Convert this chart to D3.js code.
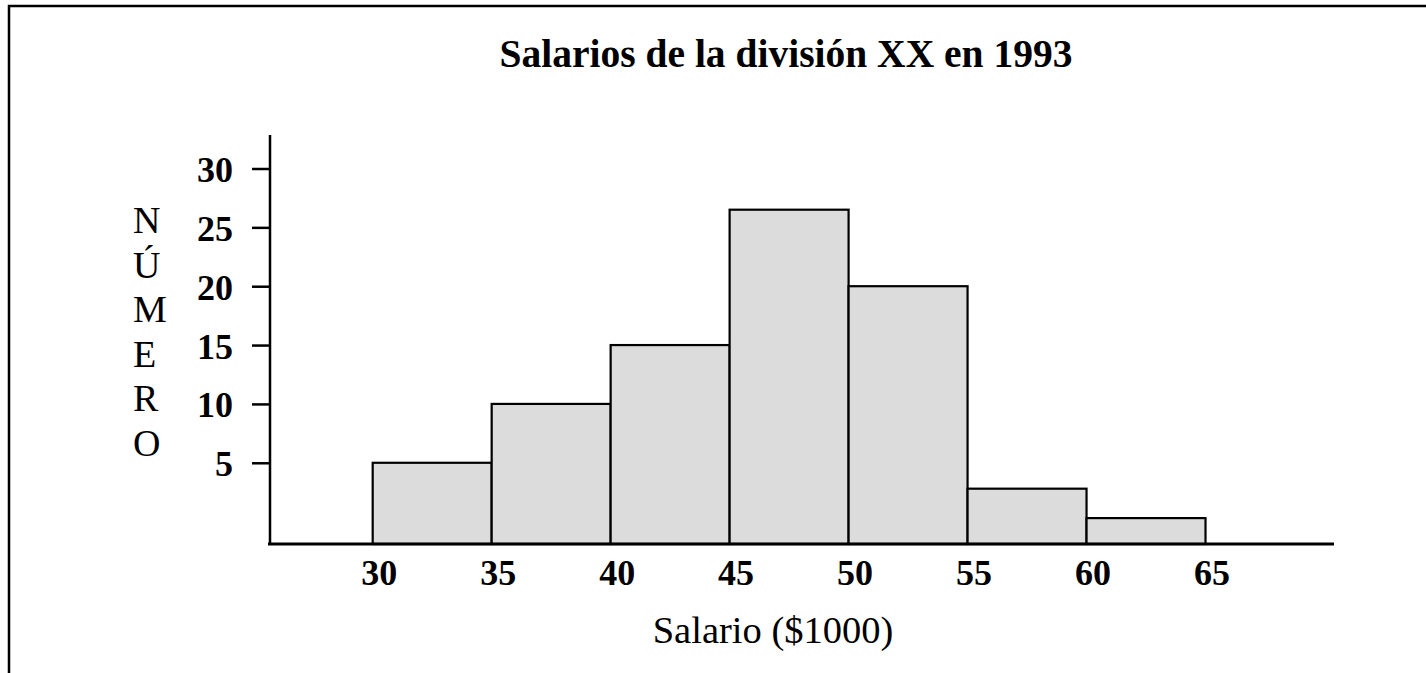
<!DOCTYPE html>
<html>
<head>
<meta charset="utf-8">
<script src="https://cdn.jsdelivr.net/npm/d3@7"></script>
<style>
	body { margin: 0; background: #fff; }
	svg { display: block; }
	text { font-family: "Liberation Serif", "DejaVu Serif", serif; fill: #000; }
</style>
</head>
<body>
<div class="container"></div>
<script>
// bin edges (salary in $1000) and counts
var binEdges = [30, 35, 40, 45, 50, 55, 60, 65];
var counts = [5, 10, 15, 26.5, 20, 2.8, 0.3];
var yTicks = [5, 10, 15, 20, 25, 30];
var yLetters = ["N", "Ú", "M", "E", "R", "O"];

const WIDTH = 1426;
const HEIGHT = 673;

var translate = function(x, y){
	return "translate(" + x + "," + y + ")";
};

var svg = d3.select('.container').append('svg')
	.attr('width', WIDTH)
	.attr('height', HEIGHT);

// frame: top and left edges only
svg.append('path')
	.attr('d', 'M9,673V6H1426')
	.attr('fill', 'none')
	.attr('stroke', '#000')
	.attr('stroke-width', 2.5);

var xScale = d3.scaleLinear()
	.domain([25.6, 70.4])
	.range([268, 1334]);

// the drawn baseline sits a bit below zero in the original
var yScale = d3.scaleLinear()
	.domain([-1.9, 30])
	.range([544, 168.5]);

var bins = counts.map(function(c, i){
	return {x0: binEdges[i], x1: binEdges[i + 1], n: c};
});

svg.append('g').selectAll('rect').data(bins)
	.enter().append('rect')
	.attr('x', function(d){ return xScale(d.x0); })
	.attr('y', function(d){ return yScale(d.n); })
	.attr('width', function(d){ return xScale(d.x1) - xScale(d.x0); })
	.attr('height', function(d){ return yScale(-1.9) - yScale(d.n); })
	.attr('fill', '#dcdcdc')
	.attr('stroke', '#000')
	.attr('stroke-width', 2.2);

// axis lines
svg.append('line')
	.attr('x1', 270).attr('x2', 270)
	.attr('y1', 135).attr('y2', 545)
	.attr('stroke', '#000').attr('stroke-width', 2.5);
svg.append('line')
	.attr('x1', 268).attr('x2', 1334)
	.attr('y1', 544).attr('y2', 544)
	.attr('stroke', '#000').attr('stroke-width', 2.8);

var yAxis = d3.axisLeft(yScale)
	.tickValues(yTicks)
	.tickSize(18)
	.tickPadding(19);

var yg = svg.append('g')
	.attr('transform', translate(270, 0))
	.call(yAxis);
yg.select('.domain').remove();
yg.selectAll('.tick line').attr('stroke', '#000').attr('stroke-width', 2.5);
yg.selectAll('.tick text')
	.attr('font-family', '"Liberation Serif", serif')
	.attr('font-size', 36)
	.attr('font-weight', 'bold')
	.attr('dy', '0.36em');

var xAxis = d3.axisBottom(xScale)
	.tickValues(binEdges)
	.tickSize(0)
	.tickPadding(15);

var xg = svg.append('g')
	.attr('transform', translate(0, 544))
	.call(xAxis);
xg.select('.domain').remove();
xg.selectAll('.tick text')
	.attr('font-family', '"Liberation Serif", serif')
	.attr('font-size', 36)
	.attr('font-weight', 'bold')
	.attr('dx', 6);

svg.append('text')
	.attr('x', 786)
	.attr('y', 67)
	.attr('text-anchor', 'middle')
	.attr('font-size', 39.5)
	.attr('font-weight', 'bold')
	.text('Salarios de la división XX en 1993');

svg.append('text')
	.attr('x', 773)
	.attr('y', 643)
	.attr('text-anchor', 'middle')
	.attr('font-size', 38.5)
	.text('Salario ($1000)');

svg.append('g').selectAll('text').data(yLetters)
	.enter().append('text')
	.attr('x', 133)
	.attr('y', function(d, i){ return 233 + i * 44.6; })
	.attr('font-size', 38)
	.text(function(d){ return d; });
</script>
</body>
</html>
